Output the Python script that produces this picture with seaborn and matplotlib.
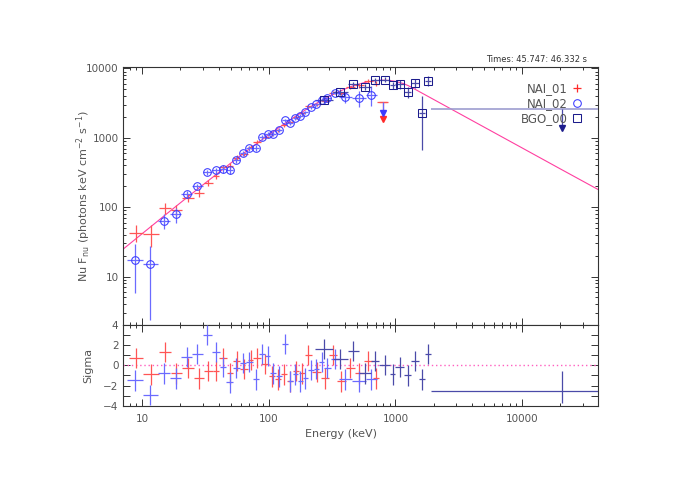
"""Count spectrum fit: nuFnu with model and residuals (NAI_01, NAI_02, BGO_00)."""

import matplotlib
matplotlib.use("Agg")
import matplotlib.pyplot as plt  # noqa: E402
import numpy as np  # noqa: E402
import seaborn as sns  # noqa: E402
from matplotlib.lines import Line2D  # noqa: E402
from matplotlib.ticker import FixedLocator, MultipleLocator, NullFormatter  # noqa: E402

sns.set_theme(style="ticks")

# ---- data ----------------------------------------------------------------
model_e = [7, 10, 15, 20, 30, 50, 70, 100, 150, 200, 250, 300, 350, 400, 450, 500,
           600, 700, 800, 900, 1000, 1150, 1250, 1333, 1600, 2000, 3000, 5000,
           10000, 20000, 40000]
model_f = [24.5, 41.6, 75.8, 115.6, 208.4, 432, 689, 1113, 1861, 2609, 3320, 3973,
           4559, 5071, 5510, 5876, 6404, 6689, 6775, 6703, 6510, 6066, 5694, 5362,
           4467, 3574, 2383, 1430, 715, 357, 179]

nai1_edges = [7.8, 10.2, 13.6, 16.8, 20.6, 25.5, 30.5, 36.0, 40.5, 46.5, 52.5, 59.5,
              68.5, 75.0, 86.0, 100, 112, 125, 140, 155, 172, 193, 218, 260, 300,
              345, 405, 475, 560, 660, 745]
nai1_flux = [43, 41, 98, 91, 136, 162, 226, 279, 375, 398, 520, 590, 735, 869, 1014,
             1121, 1275, 1517, 1669, 1995, 2247, 2829, 3040, 3451, 4468, 4381, 5320,
             5680, 6607, 6042]
nai1_err = [12, 14, 18, 16, 18, 20, 24, 27, 30, 33, 38, 42, 48, 55, 60, 70, 78, 85,
            95, 110, 125, 145, 170, 200, 230, 270, 320, 370, 430, 500]
nai1_resid = [0.7, -0.9, 1.3, -0.8, -0.3, -1.3, -0.6, -0.6, 0.7, -0.8, 0.4, -0.4,
              0.5, 0.7, 0.1, -1.1, -1.4, -0.9, -1.6, -0.6, -0.8, 1.0, -0.7, -1.3,
              1.0, -1.6, -0.3, -0.8, 0.4, -1.3]

nai2_edges = [7.6, 10.15, 13.25, 16.65, 20.4, 24.8, 29.9, 35.3, 40.85, 46.25, 51.85,
              58.6, 66.1, 74.4, 83.2, 92.5, 102.8, 114.2, 126.8, 140.3, 153.9, 168.3,
              184.3, 203.7, 225.4, 248.7, 273.7, 307.2, 360, 450, 580, 720]
nai2_flux = [17.4, 15.2, 64, 78.5, 153, 201, 321, 339, 351, 345, 480, 597, 710, 720,
             1015, 1142, 1150, 1300, 1798, 1655, 1930, 2061, 2336, 2757, 3066, 3533,
             3743, 4453, 3900, 3800, 4207]
nai2_err = [11.6, 12.8, 15, 19, 19, 18, 28, 34, 35, 40, 45, 52, 58, 65, 70, 77, 85,
            95, 85, 100, 110, 120, 130, 140, 150, 165, 180, 200, 700, 1000, 1300]
nai2_resid = [-1.5, -2.9, -0.8, -1.3, 0.8, 1.1, 3.0, 1.3, -0.2, -1.7, -0.3, 0.2, 0.3,
              -1.4, 1.1, 0.9, -0.8, -1.1, 2.1, -1.6, -0.9, -1.6, -1.3, -0.5, -0.4,
              0.3, -0.3, 0.6, -1.4, -1.6, -1.4]

bgo_edges = [230, 320, 420, 515, 635, 745, 900, 1000, 1165, 1330, 1520, 1700, 1920]
bgo_flux = [3480, 4590, 5930, 5420, 6770, 6930, 5740, 5930, 4590, 6190, 2310, 6620]
bgo_err = [350, 400, 500, 500, 600, 650, 700, 800, 850, 950, 1650, 1100]
bgo_resid = [1.6, 0.6, 1.4, -0.8, 0.4, 0.0, -0.9, -0.2, -1.0, 0.4, -1.4, 1.1]

# upper limits: (bin lo, bin hi, bin centre, cap value, arrow tip)
nai1_ul = [745, 850, 796, 3300, 1850]
nai2_ul = [720, 870, 791, 3300, 2250]
bgo_ul = [1920, 40000, 20500, 2580, 1390]
bgo_ul_resid = [-2.5, 1.2, 1.9]  # value, err below, err above

RED, RED_E = "#ff2a2a", "#ff5555"
BLUE, BLUE_E = "#3a3aff", "#6b6bff"
NAVY, NAVY_E = "#1c1c8c", "#4a4aa8"
PINK = "#ff3fa0"
GREY = "#555555"

plt.rcParams.update({
    "font.family": ["DejaVu Sans"],
    "axes.edgecolor": "#333333",
    "axes.linewidth": 0.8,
    "xtick.color": "#333333",
    "ytick.color": "#333333",
    "xtick.labelcolor": GREY,
    "ytick.labelcolor": GREY,
    "axes.labelcolor": GREY,
    "text.color": GREY,
})


def _bins(edges):
    e = np.asarray(edges, float)
    lo, hi = e[:-1], e[1:]
    mid = np.sqrt(lo * hi)
    return mid, mid - lo, hi - mid


fig = plt.figure(figsize=(6.95, 5.0), dpi=100)
ax = fig.add_axes([0.1765, 0.35, 0.6844, 0.5166])
axr = fig.add_axes([0.1765, 0.1886, 0.6844, 0.1614], sharex=ax)

sets = [
    (nai1_edges, nai1_flux, nai1_err, nai1_resid, RED, RED_E, None),
    (nai2_edges, nai2_flux, nai2_err, nai2_resid, BLUE, BLUE_E, "o"),
    (bgo_edges, bgo_flux, bgo_err, bgo_resid, NAVY, NAVY_E, "s"),
]

# model line
sns.lineplot(x=model_e, y=model_f, ax=ax, color=PINK, lw=0.8, zorder=2)

for edges, flux, err, resid, col, ecol, mk in sets:
    mid, xl, xh = _bins(edges)
    ax.errorbar(mid, flux, xerr=[xl, xh], yerr=err, fmt="none", ecolor=ecol,
                elinewidth=0.9, capsize=0, zorder=3)
    if mk:
        ax.plot(mid, flux, ls="none", marker=mk, ms=5.5 if mk == "o" else 6,
                mfc="none", mec=col, mew=0.75, zorder=4)
    axr.errorbar(mid, resid, xerr=[xl, xh], yerr=1.0, fmt="none", ecolor=ecol,
                 elinewidth=0.9, capsize=0, zorder=3)

# upper limits
for ul, col, ecol in [(nai1_ul, RED, RED_E), (nai2_ul, BLUE, BLUE_E)]:
    lo, hi, e, cap, tip = ul
    ax.errorbar([e], [cap], xerr=[[e - lo], [hi - e]], fmt="none", ecolor=RED_E,
                elinewidth=0.9, capsize=0, zorder=3)
    ax.vlines(e, tip, cap, color=ecol, lw=0.9, zorder=3)
    ax.plot([e], [tip], ls="none", marker="v", ms=4.5, color=col, zorder=5)

lo, hi, e_bgo, cap, tip = bgo_ul
ax.errorbar([e_bgo], [cap], xerr=[[e_bgo - lo], [hi - e_bgo]], fmt="none",
            ecolor="#9d9dd0", elinewidth=1.2, capsize=0, zorder=3)
ax.vlines(e_bgo, tip, cap, color=NAVY_E, lw=0.9, zorder=3)
ax.plot([e_bgo], [tip], ls="none", marker="v", ms=4.5, color=NAVY, zorder=5)
r, rl, rh = bgo_ul_resid
axr.errorbar([e_bgo], [r], xerr=[[e_bgo - lo], [hi - e_bgo]], yerr=[[rl], [rh]],
             fmt="none", ecolor=NAVY_E, elinewidth=0.9, capsize=0, zorder=3)

# zero line in residuals
sns.lineplot(x=[7, 40000], y=[0, 0], ax=axr, color="#ff5fc0", lw=1.0,
             linestyle=(0, (1, 2)), zorder=1)

# ---- axes cosmetics -------------------------------------------------------
for a in (ax, axr):
    a.set_xscale("log")
    a.set_xlim(7, 40000)
    a.tick_params(which="both", direction="in", top=True, right=True,
                  labelsize=7.5, width=0.7)
    a.tick_params(which="major", length=5, pad=5)
    a.tick_params(which="minor", length=2.5)

ax.set_yscale("log")
ax.set_ylim(2, 10600)
ax.yaxis.set_major_locator(FixedLocator([10, 100, 1000, 10000]))
ax.set_yticklabels(["10", "100", "1000", "10000"])
ax.tick_params(axis="x", labelbottom=False)
ax.tick_params(axis="y", which="major", pad=3)

axr.set_ylim(-4, 4)
axr.yaxis.set_major_locator(MultipleLocator(2))
axr.yaxis.set_minor_locator(MultipleLocator(1))
axr.tick_params(axis="y", which="minor", length=5)
axr.tick_params(axis="y", which="major", pad=3)
axr.set_yticklabels([f"{int(v)}".replace("-", "\u2212") for v in axr.get_yticks()])
axr.xaxis.set_major_locator(FixedLocator([10, 100, 1000, 10000]))
axr.set_xticklabels(["10", "100", "1000", "10000"])
axr.xaxis.set_minor_formatter(NullFormatter())
axr.tick_params(axis="x", which="major", pad=6)

ax.set_ylabel(r"Nu F$_{\mathrm{nu}}$ (photons keV cm$^{-2}$ s$^{-1}$)", fontsize=8)
ax.yaxis.set_label_coords(-0.062, 0.5)
axr.set_ylabel("Sigma", fontsize=8)
axr.yaxis.set_label_coords(-0.062, 0.5)
axr.set_xlabel("Energy (keV)", fontsize=8)
axr.xaxis.set_label_coords(0.458, -0.29)

handles = [
    Line2D([], [], ls="none", marker="+", ms=6, color=RED, mew=0.9),
    Line2D([], [], ls="none", marker="o", ms=5.5, mfc="none", mec=BLUE, mew=0.75),
    Line2D([], [], ls="none", marker="s", ms=6, mfc="none", mec=NAVY, mew=0.75),
]
ax.legend(handles, ["NAI_01", "NAI_02", "BGO_00"], loc="upper right",
          bbox_to_anchor=(0.965, 0.94), frameon=False, markerfirst=False,
          fontsize=8.5, labelspacing=0.15, handlelength=0.8, handletextpad=0.4,
          borderaxespad=0, borderpad=0, labelcolor=GREY)

fig.text(0.844, 0.882, "Times: 45.747: 46.332 s", ha="right", va="center",
         fontsize=6, color="#333333")

fig.savefig("out.png", dpi=100)
